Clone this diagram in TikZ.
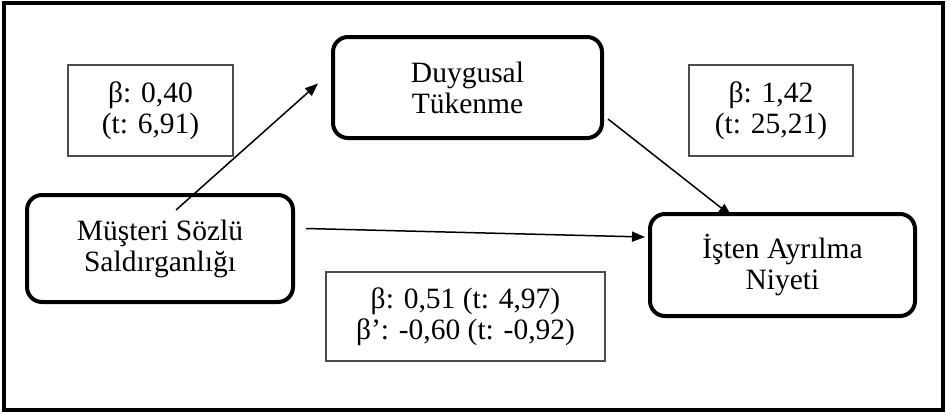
\documentclass[tikz,border=0pt]{standalone}
\usepackage{fontspec}
\setmainfont{Liberation Serif}
\usetikzlibrary{arrows.meta}

\begin{document}
\begin{tikzpicture}[x=1pt,y=-1pt,thick,
	every node/.style={font=\fontsize{29.5}{31}\selectfont,align=center,inner sep=0pt},
	var/.style={draw,line width=4pt,rounded corners=15pt},
	coef/.style={draw=black!70,line width=1.2pt},
	path/.style={line width=1.5pt,-{Triangle[length=13pt,width=10pt]}}]
\useasboundingbox (0,0) rectangle (947,413);
\draw[line width=3.5pt] (4,3) rectangle (943,410);

% variables
\node[var,minimum width=266pt,minimum height=107pt] (MSS) at (160,248.5) {Müşteri Sözlü\\Saldırganlığı};
\node[var,minimum width=269pt,minimum height=101pt] (DT)  at (467.5,87.5) {Duygusal\\Tükenme};
\node[var,minimum width=265pt,minimum height=102pt] (IAN) at (782.5,265) {İşten Ayrılma\\Niyeti};

% coefficients
\node[coef,minimum width=165pt,minimum height=91pt] (ca) at (150.5,110.5) {β: 0,40\\(t: 6,91)};
\node[coef,minimum width=164pt,minimum height=91pt] (cb) at (771,110.5) {β: 1,42\\(t: 25,21)};
\node[coef,minimum width=279pt,minimum height=89pt] (cc) at (465.5,316.5) {β: 0,51 (t: 4,97)\\β’: -0,60 (t: -0,92)};

% paths
\draw[path] ([xshift=16pt,yshift=-17pt]MSS.north) -- ([xshift=-13pt,yshift=4pt]DT.west);
\draw[path] ([xshift=4pt,yshift=21pt]DT.south east) -- ([xshift=-51pt,yshift=-4pt]IAN.north);
\draw[path] ([xshift=11pt,yshift=20pt]MSS.east) -- ([xshift=-3pt,yshift=28pt]IAN.west);
\end{tikzpicture}
\end{document}
